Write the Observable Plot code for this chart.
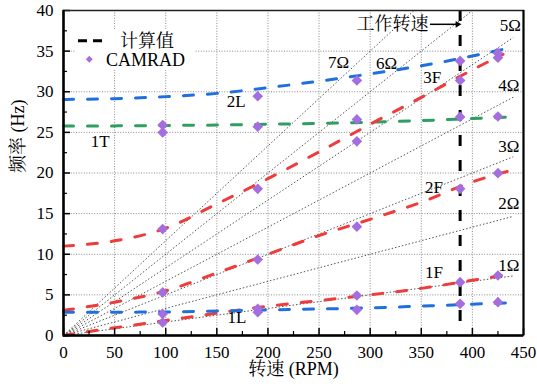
<!DOCTYPE html>
<html>
<head>
<meta charset="utf-8">
<script src="https://cdn.jsdelivr.net/npm/d3@7"></script>
<script src="https://cdn.jsdelivr.net/npm/@observablehq/plot@0.6"></script>
<style>
  body { margin: 0; background: #fff; }
  #wrap { position: relative; width: 537px; height: 386px; }
  #legend { position: absolute; left: 75px; top: 29px; width: 120px; height: 41px; background: #fff; }
  #legend svg { display: block; }
  #wrap svg, #wrap svg text, #wrap svg g { font-family: 'Liberation Serif', 'Noto Serif CJK SC', serif !important; }
</style>
</head>
<body>
<div id="wrap">
  <div id="chart"></div>
  <div id="legend"></div>
</div>
<script>
// ---------- data ----------
const xTicks = [0, 50, 100, 150, 200, 250, 300, 350, 400, 450];
const xMinorTicks = [25, 75, 125, 175, 225, 275, 325, 375, 425];
const yTicks = [0, 5, 10, 15, 20, 25, 30, 35, 40];
const yMinorTicks = [2.5, 7.5, 12.5, 17.5, 22.5, 27.5, 32.5, 37.5];

// calculated curves (RPM, Hz)
const rpm2L = [0, 50, 100, 150, 200, 250, 300, 350, 400, 440];
const hz2L  = [29.05, 29.15, 29.4, 29.8, 30.5, 31.3, 32.2, 33.2, 34.4, 35.5];
const rpm1T = [0, 50, 100, 150, 200, 250, 300, 350, 400, 440];
const hz1T  = [25.8, 25.8, 25.85, 25.9, 26.0, 26.1, 26.25, 26.45, 26.7, 26.9];
const rpm3F = [0, 50, 100, 150, 200, 250, 300, 350, 400, 430];
const hz3F  = [11.0, 11.65, 13.2, 16.2, 19.3, 22.6, 26.0, 29.3, 32.7, 34.6];
const rpm2F = [0, 50, 100, 150, 200, 250, 300, 350, 400, 440];
const hz2F  = [3.1, 4.1, 5.5, 7.7, 10.0, 12.3, 14.3, 16.4, 18.9, 20.4];
const rpm1F = [0, 25, 50, 100, 150, 200, 250, 300, 350, 400, 440];
const hz1F  = [0, 0.5, 0.95, 1.85, 2.75, 3.6, 4.3, 5.0, 5.8, 6.8, 7.6];
const rpm1L = [0, 100, 200, 300, 350, 400, 440];
const hz1L  = [2.85, 2.9, 3.15, 3.4, 3.62, 3.85, 4.05];

// CAMRAD points
const camradRpm = [97, 97, 97, 97, 97, 97,
                   190, 190, 190, 190, 190, 190,
                   287, 287, 287, 287, 287, 287,
                   388, 388, 388, 388, 388, 388,
                   425, 425, 425, 425, 425, 425];
const camradHz  = [25.9, 25.0, 13.1, 5.3, 2.65, 1.6,
                   29.45, 25.7, 18.05, 9.35, 3.28, 2.87,
                   31.4, 26.6, 23.9, 13.4, 4.92, 3.16,
                   33.8, 31.4, 26.9, 18.05, 6.56, 3.9,
                   34.75, 34.2, 26.95, 19.98, 7.38, 4.1];

// harmonic rays nΩ
const harmonics = [1, 2, 3, 4, 5, 6, 7];
const rayEndRpm = 440;
const harmonicLabels = ["1Ω", "2Ω", "3Ω", "4Ω", "5Ω", "6Ω", "7Ω"];
const harmonicLabelRpm = [435.6, 435.6, 435.6, 435.6, 437, 316, 269];
const harmonicLabelHz  = [8.6, 16.2, 23.2, 30.8, 38.15, 33.5, 33.6];

// mode labels
const modeLabels = ["1T", "2L", "3F", "2F", "1F", "1L"];
const modeLabelRpm = [35.8, 169, 360.8, 362.4, 362.4, 169.7];
const modeLabelHz  = [23.9, 28.8, 31.7, 18.25, 7.8, 2.2];

// operating speed
const operatingRpm = 388;
const operatingText = "工作转速";
const operatingTextPos = {rpm: 357, hz: 38.3};
const operatingArrow = {rpm1: 358.5, rpm2: 385.5, hz: 38.3};

const xLabel = "转速 (RPM)";
const yLabel = "频率 (Hz)";
const legendLabels = ["计算值", "CAMRAD"];

// ---------- styles ----------
const W = 537, H = 386, mL = 63, mR = 14, mT = 10, mB = 51;
const plotW = W - mL - mR, plotH = H - mT - mB;
const FONT = "'Liberation Serif', 'Noto Serif CJK SC', serif";
const BLUE = "#1f70db", GREEN = "#2f9e64", RED = "#ee3b3b", PURPLE = "#a46ee0";
const DASH = "10,14";

const pts = (xs, ys) => xs.map((x, i) => ({x, y: ys[i]}));
const curves = [
  {d: pts(rpm2L, hz2L), c: BLUE},
  {d: pts(rpm1T, hz1T), c: GREEN},
  {d: pts(rpm3F, hz3F), c: RED},
  {d: pts(rpm2F, hz2F), c: RED},
  {d: pts(rpm1F, hz1F), c: RED},
  {d: pts(rpm1L, hz1L), c: BLUE}
];

const chart = Plot.plot({
  width: W, height: H,
  marginLeft: mL, marginRight: mR, marginTop: mT, marginBottom: mB,
  style: {fontFamily: FONT, fontSize: "17px", color: "#000", background: "#fff"},
  x: {domain: [0, 450]},
  y: {domain: [0, 40]},
  marks: [
    Plot.gridX(xTicks, {stroke: "#8a8a8a", strokeOpacity: 1, strokeDasharray: "1,1.6"}),
    Plot.gridY(yTicks, {stroke: "#8a8a8a", strokeOpacity: 1, strokeDasharray: "1,1.6"}),
    Plot.link(harmonics, {
      x1: 0, y1: 0, x2: rayEndRpm, y2: (n) => n * rayEndRpm / 60,
      stroke: "#555", strokeWidth: 1, strokeDasharray: "1.5,2", clip: true
    }),
    ...curves.map(({d, c}) => Plot.line(d, {
      x: "x", y: "y", stroke: c, strokeWidth: 3, strokeDasharray: DASH, curve: "monotone-x"
    })),
    Plot.ruleX([operatingRpm], {stroke: "#000", strokeWidth: 3, strokeDasharray: "11,14"}),
    Plot.dot(pts(camradRpm, camradHz), {
      x: "x", y: "y", symbol: "diamond2", r: 4.8, fill: PURPLE, stroke: "none"
    }),
    Plot.text(harmonicLabels, {
      x: (d, i) => harmonicLabelRpm[i], y: (d, i) => harmonicLabelHz[i], text: (d) => d,
      fontSize: 17, fontFamily: FONT, fill: "#000"
    }),
    Plot.text(modeLabels, {
      x: (d, i) => modeLabelRpm[i], y: (d, i) => modeLabelHz[i], text: (d) => d,
      fontSize: 17, fontFamily: FONT, fill: "#000"
    }),
    Plot.text([operatingText], {
      x: operatingTextPos.rpm, y: operatingTextPos.hz, text: (d) => d,
      textAnchor: "end", fontSize: 18, fontFamily: FONT, fill: "#000"
    }),
    Plot.link([operatingArrow], {
      x1: "rpm1", x2: "rpm2", y1: "hz", y2: "hz", stroke: "#000", strokeWidth: 1.5
    }),
    Plot.dot([operatingArrow], {
      x: "rpm2", y: "hz", symbol: "triangle2", r: 3.2, rotate: 90, fill: "#000", stroke: "none"
    }),
    // axes: labels
    Plot.axisX(xTicks, {tickSize: 0, tickPadding: 10, fontSize: 17, fontFamily: FONT, label: null}),
    Plot.axisY(yTicks, {tickSize: 0, tickPadding: 10, fontSize: 17, fontFamily: FONT, label: null}),
    // inward ticks
    Plot.tickX(xTicks, {x: (d) => d, insetTop: plotH - 7, stroke: "#000", strokeWidth: 1.5}),
    Plot.tickX(xMinorTicks, {x: (d) => d, insetTop: plotH - 4, stroke: "#000", strokeWidth: 1.2}),
    Plot.tickY(yTicks, {y: (d) => d, insetRight: plotW - 7, stroke: "#000", strokeWidth: 1.5}),
    Plot.tickY(yMinorTicks, {y: (d) => d, insetRight: plotW - 4, stroke: "#000", strokeWidth: 1.2}),
    // frame
    Plot.frame({stroke: "#222", strokeWidth: 1.5}),
    Plot.ruleX([0], {stroke: "#000", strokeWidth: 2.5}),
    Plot.ruleX([450], {stroke: "#000", strokeWidth: 2}),
    Plot.ruleY([0], {stroke: "#000", strokeWidth: 2.5}),
    // axis titles
    Plot.text([xLabel], {frameAnchor: "bottom", dy: 39, text: (d) => d, fontSize: 18, fontFamily: FONT, fill: "#000"}),
    Plot.text([yLabel], {frameAnchor: "left", dx: -45, rotate: -90, text: (d) => d, fontSize: 18, fontFamily: FONT, fill: "#000"})
  ]
});
document.getElementById("chart").appendChild(chart);

// legend (overlay box)
const lg = d3.select("#legend").append("svg").attr("width", 120).attr("height", 41)
  .style("font-size", "18px");
lg.append("line").attr("x1", 3).attr("x2", 27).attr("y1", 11.7).attr("y2", 11.7)
  .attr("stroke", "#000").attr("stroke-width", 3).attr("stroke-dasharray", "9,6");
lg.append("text").attr("x", 45).attr("y", 11.5).attr("dominant-baseline", "central").text(legendLabels[0]);
lg.append("path").attr("d", d3.symbol(d3.symbolDiamond2, 30)())
  .attr("transform", "translate(14.3,30.3)").attr("fill", PURPLE);
lg.append("text").attr("x", 31).attr("y", 31).attr("dominant-baseline", "central").text(legendLabels[1]);
</script>
</body>
</html>
